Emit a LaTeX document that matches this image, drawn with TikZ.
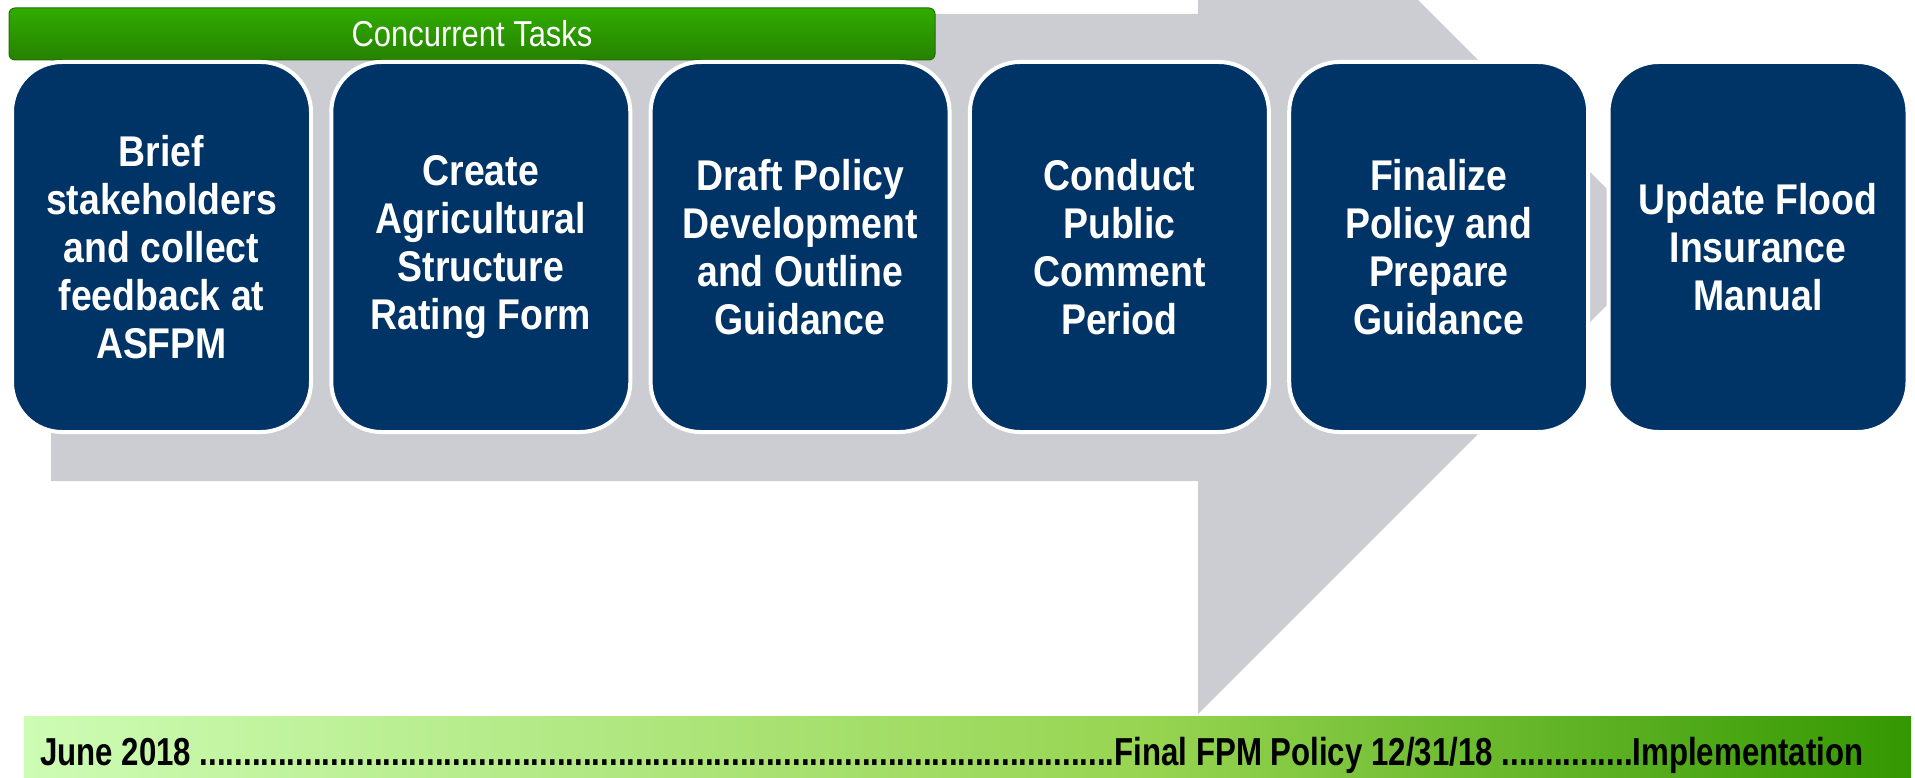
\documentclass[tikz,border=0pt]{standalone}
\usepackage{fontspec}
\newfontfamily\boxfont[FakeStretch=0.87]{Liberation Sans Bold}
\newfontfamily\lblfont[FakeStretch=0.86]{Liberation Sans}
\newfontfamily\barfont[FakeStretch=0.80]{Liberation Sans Bold}
\definecolor{navy}{RGB}{0,51,102}
\definecolor{arrowgray}{RGB}{204,205,210}
\definecolor{hdtop}{RGB}{48,172,0}
\definecolor{hdbot}{RGB}{38,130,0}
\definecolor{hdedge}{RGB}{34,110,0}
\definecolor{gA}{RGB}{205,252,180}
\definecolor{gB}{RGB}{150,212,80}
\definecolor{gC}{RGB}{52,152,2}
\pgfdeclarehorizontalshading{bargrad}{100bp}{color(0bp)=(gA); color(25bp)=(gA); color(55bp)=(gB); color(75bp)=(gC); color(100bp)=(gC)}
\newcommand{\leaderdots}{\xleaders\hbox{.}\hfill}
\tikzset{
  stepbox/.style={draw=white, line width=4pt, fill=navy, rounded corners=50pt,
    minimum width=299pt, minimum height=370pt, text=white, align=center,
    font=\boxfont\fontsize{43}{48}\selectfont, inner sep=0pt},
  header/.style={draw=hdedge, line width=1pt, top color=hdtop, bottom color=hdbot,
    rounded corners=6pt, minimum width=926pt, minimum height=52pt, text=white,
    font=\lblfont\fontsize{36}{40}\selectfont, inner sep=0pt},
  timebar/.style={shade, shading=bargrad, minimum width=1887pt, minimum height=62pt, inner sep=0pt},
  timetext/.style={font=\barfont\fontsize{39}{44}\selectfont, text=black, inner sep=0pt, anchor=base west},
}
\begin{document}
\begin{tikzpicture}[x=1pt,y=-1pt]
\useasboundingbox (0,0) rectangle (1915,778);
\begin{scope}
  \clip (0,0) rectangle (1915,778);
  \fill[arrowgray] (51,14) -- (1198,14) -- (1198,-220) -- (1665,247) -- (1198,714) -- (1198,481) -- (51,481) -- cycle;
\end{scope}
\node[header] (hdr) at (472,34) {Concurrent Tasks};
\node[stepbox] (s1) at (161.5,247) {Brief\\stakeholders\\and collect\\feedback at\\ASFPM};
\node[stepbox] (s2) at (480.8,247) {Create\\Agricultural\\Structure\\Rating Form};
\node[stepbox] (s3) at (800.1,247) {Draft Policy\\Development\\and Outline\\Guidance};
\node[stepbox] (s4) at (1119.4,247) {Conduct\\Public\\Comment\\Period};
\node[stepbox] (s5) at (1438.7,247) {Finalize\\Policy and\\Prepare\\Guidance};
\node[stepbox] (s6) at (1758,247) {Update Flood\\Insurance\\Manual};
\node[timebar, anchor=north west] (bar) at (24,716) {};
\node[timetext] (tl) at (40,765) {\hbox to 1829pt{\hbox to 1074pt{June 2018 \leaderdots}\hbox to 518pt{Final FPM Policy 12/31/18 \leaderdots}Implementation\hss}};
\end{tikzpicture}
\end{document}
